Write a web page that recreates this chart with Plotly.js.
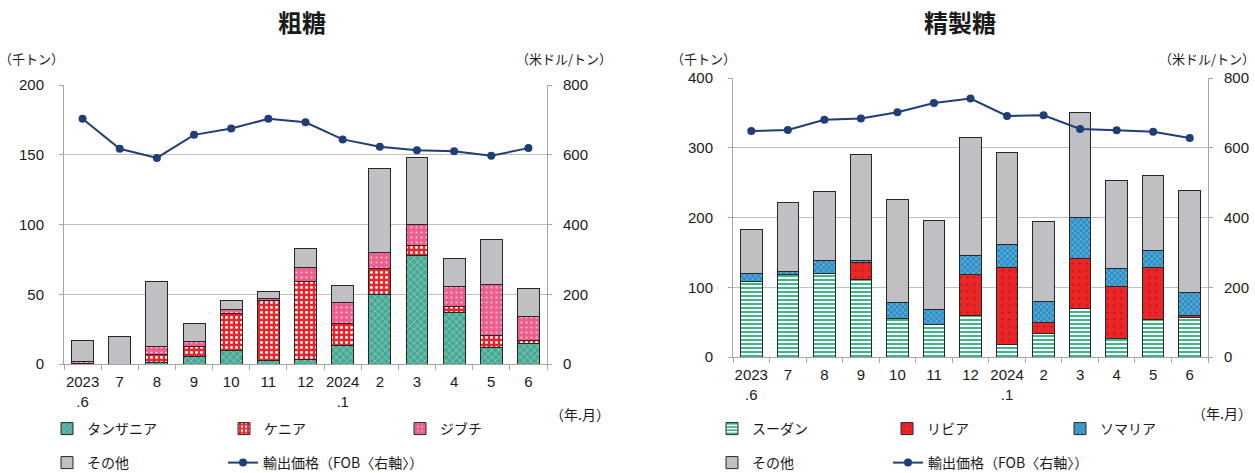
<!DOCTYPE html>
<html>
<head>
<meta charset="utf-8">
<script src="https://cdn.plot.ly/plotly-3.0.1.min.js"></script>
<style>
  html, body { margin: 0; padding: 0; background: #fff; }
  #chart { width: 1255px; height: 473px; }
</style>
</head>
<body>
<div id="chart"></div>
<script>
// Month labels (year.month)
const months = ["2023<br>.6", "7", "8", "9", "10", "11", "12", "2024<br>.1", "2", "3", "4", "5", "6"];

// 粗糖 exports by destination (thousand tonnes)
const rawTanzania = [0, 0, 1, 5.7, 10, 2.4, 3.3, 13.6, 50, 78, 37, 12, 14.8];
const rawKenya    = [0.5, 0, 5.5, 7.2, 26.3, 42.8, 56.2, 15.6, 18.4, 7.2, 4.1, 8.2, 1.9];
const rawDjibouti = [1, 0, 6, 3.1, 2.9, 1.8, 9.8, 14.8, 11.7, 15, 14.3, 37, 17.7];
const rawOther    = [15, 20, 47, 13.2, 6.2, 5.3, 13.6, 12.4, 60.3, 48, 20.3, 32.3, 19.8];
// 粗糖 export price, FOB (USD/tonne)
const rawPrice    = [703, 617, 591, 657, 675, 703, 693, 644, 623, 613, 610, 597, 619];

// 精製糖 exports by destination (thousand tonnes)
const refSudan    = [108, 118, 119.5, 111, 55, 46.4, 58.8, 17.7, 33.5, 69.3, 27.2, 53.5, 57.3];
const refLibya    = [0, 0, 0, 24, 0, 0, 59.2, 111.3, 15.7, 71.7, 74.1, 74.5, 2.9];
const refSomalia  = [11.5, 4, 18.5, 3.5, 23, 21.5, 27.8, 32.5, 29.7, 59.7, 24.9, 24.9, 32];
const refOther    = [63.5, 99, 100, 152.5, 147.6, 128, 169.6, 131.5, 115.6, 149.6, 126.6, 107.1, 146.8];
// 精製糖 export price, FOB (USD/tonne)
const refPrice    = [648, 651, 680, 684, 702, 728, 741, 691, 693, 654, 650, 646, 628];

const FONT = "Liberation Sans, Arial, 'Noto Sans CJK JP', sans-serif";
const JFONT = "'Noto Sans CJK JP', sans-serif";
const W = 1255, H = 473;
const px = v => v / W;
const py = v => 1 - v / H;

const outline = { color: "#262626", width: 1 };
const fills = {
  tanzania: { shape: "x", bgcolor: "#3aa6b8", fgcolor: "#b4cf47", size: 5, solidity: 0.3 },
  kenya:    { shape: ".", bgcolor: "#ea2429", fgcolor: "#ffffff", size: 5, solidity: 0.28 },
  djibouti: { shape: ".", bgcolor: "#ec5e8c", fgcolor: "#f8c8d8", size: 5, solidity: 0.15 },
  sudan:    { shape: "-", bgcolor: "#ffffff", fgcolor: "#3bb884", size: 4, solidity: 0.5 },
  libya:    { shape: ".", bgcolor: "#ec2527", fgcolor: "#a81818", size: 7, solidity: 0.08 },
  somalia:  { shape: "x", bgcolor: "#2c8ec5", fgcolor: "#b0def3", size: 4, solidity: 0.2 }
};
const otherColor = "#c0c0c4";
const lineColor = "#1f3e75";

function bar(name, y, pattern, xa, ya, legend) {
  const marker = { line: outline };
  if (pattern) { marker.color = pattern.bgcolor; marker.pattern = Object.assign({ fillmode: "replace" }, pattern); }
  else { marker.color = otherColor; }
  return { type: "bar", name, x: months, y, xaxis: xa, yaxis: ya, marker, legend, hoverinfo: "y+name" };
}
function priceLine(y, xa, ya, legend) {
  return {
    type: "scatter", mode: "lines+markers", name: "輸出価格（FOB〈右軸〉）",
    x: months, y, xaxis: xa, yaxis: ya, legend,
    line: { color: lineColor, width: 2 },
    marker: { color: lineColor, size: 8 }
  };
}

const data = [
  bar("タンザニア", rawTanzania, fills.tanzania, "x", "y", "legend"),
  bar("ケニア", rawKenya, fills.kenya, "x", "y", "legend2"),
  bar("ジブチ", rawDjibouti, fills.djibouti, "x", "y", "legend3"),
  bar("その他", rawOther, null, "x", "y", "legend4"),
  priceLine(rawPrice, "x", "y2", "legend5"),
  bar("スーダン", refSudan, fills.sudan, "x2", "y3", "legend6"),
  bar("リビア", refLibya, fills.libya, "x2", "y3", "legend7"),
  bar("ソマリア", refSomalia, fills.somalia, "x2", "y3", "legend8"),
  bar("その他", refOther, null, "x2", "y3", "legend9"),
  priceLine(refPrice, "x2", "y4", "legend10")
];

const axisGrey = "#a6a6a6";
const tickFont = { family: FONT, size: 15, color: "#1a1a1a" };

function xAxis(domain, anchor) {
  return {
    domain, anchor, type: "category", tickson: "boundaries",
    range: [-0.5, months.length - 0.5],
    ticks: "outside", ticklen: 5, tickcolor: axisGrey, tickangle: 0,
    showline: true, linecolor: axisGrey, linewidth: 1,
    showgrid: false, tickfont: tickFont, ticklabelstandoff: 4, fixedrange: true
  };
}
function yAxis(domain, anchor, range, dtick) {
  return {
    domain, anchor, range, dtick, side: "left",
    showgrid: true, gridcolor: "#bfbfbf", gridwidth: 1,
    showline: true, linecolor: axisGrey, linewidth: 1,
    ticks: "outside", ticklen: 4, tickcolor: axisGrey,
    tickfont: tickFont, ticklabelstandoff: 12, zeroline: false, fixedrange: true
  };
}
function yAxisRight(overlay, anchor, range, dtick) {
  return {
    overlaying: overlay, anchor, range, dtick, side: "right",
    showgrid: false, showline: true, linecolor: axisGrey, linewidth: 1,
    ticks: "outside", ticklen: 4, tickcolor: axisGrey,
    tickfont: tickFont, ticklabelstandoff: 8, zeroline: false, fixedrange: true
  };
}

function legendAt(xText, yCenter) {
  return {
    x: px(xText - 40), y: py(yCenter), xanchor: "left", yanchor: "middle",
    orientation: "h", bgcolor: "rgba(0,0,0,0)", borderwidth: 0,
    font: { family: JFONT, size: 14, color: "#1a1a1a" }
  };
}

const leftX = [px(64), px(547)];
const leftY = [py(364), py(85)];
const rightX = [px(733), px(1208)];
const rightY = [py(357), py(78)];

function note(text, x, y, size, bold) {
  return {
    text, x: px(x), y: py(y), xref: "paper", yref: "paper",
    xanchor: "center", yanchor: "middle", showarrow: false,
    font: { family: JFONT, size, color: "#1a1a1a", weight: bold ? "bold" : "normal" }
  };
}

const layout = {
  width: W, height: H,
  margin: { l: 0, r: 0, t: 0, b: 0, autoexpand: false },
  paper_bgcolor: "#ffffff", plot_bgcolor: "rgba(0,0,0,0)",
  barmode: "stack", bargap: 0.41,
  font: { family: FONT, color: "#1a1a1a" },
  xaxis: xAxis(leftX, "y"),
  yaxis: yAxis(leftY, "x", [0, 200], 50),
  yaxis2: yAxisRight("y", "x", [0, 800], 200),
  xaxis2: xAxis(rightX, "y3"),
  yaxis3: yAxis(rightY, "x2", [0, 400], 100),
  yaxis4: yAxisRight("y3", "x2", [0, 800], 200),
  legend: legendAt(87, 429),
  legend2: legendAt(264, 429),
  legend3: legendAt(440, 429),
  legend4: legendAt(87, 463),
  legend5: legendAt(263, 463),
  legend6: legendAt(752, 429),
  legend7: legendAt(927, 429),
  legend8: legendAt(1100, 429),
  legend9: legendAt(752, 463),
  legend10: legendAt(928, 463),
  annotations: [
    note("粗糖", 302, 22, 24, true),
    note("精製糖", 960, 22, 24, true),
    note("（千トン）", 31, 59, 13),
    note("（米ドル/トン）", 564, 59, 13),
    note("（千トン）", 703, 59, 13),
    note("（米ドル/トン）", 1207, 58, 13),
    note("（年.月）", 580, 414, 14),
    note("（年.月）", 1222, 413, 14)
  ],
  showlegend: true
};

Plotly.newPlot("chart", data, layout, { displayModeBar: false, staticPlot: true });
</script>
</body>
</html>
